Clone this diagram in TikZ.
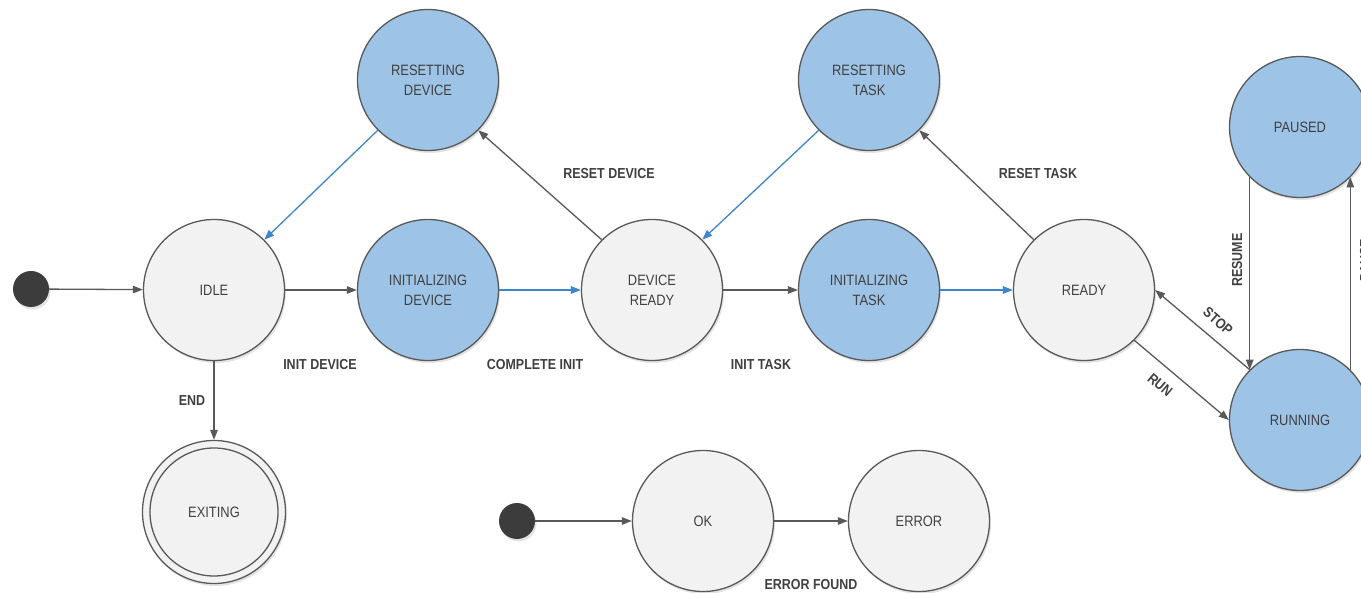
\documentclass[tikz,border=0pt]{standalone}
\usepackage{fontspec}
\setmainfont[FakeStretch=0.86]{Liberation Sans}
\usetikzlibrary{arrows.meta,shadows}
\definecolor{stfill}{HTML}{F2F2F2}
\definecolor{stblue}{HTML}{9DC3E6}
\definecolor{stline}{HTML}{595959}
\definecolor{sttext}{HTML}{404040}
\definecolor{bedgecol}{HTML}{3D85CC}
\definecolor{dotcol}{HTML}{3C3C3C}
\begin{document}
\begin{tikzpicture}[x=1pt,y=-1pt,
  state/.style={circle, draw=stline, line width=1.3pt, fill=stfill, minimum size=141pt, inner sep=0pt,
    align=center, font=\fontsize{15}{20}\selectfont, text=sttext,
    drop shadow={opacity=0.22, shadow xshift=1.5pt, shadow yshift=-2.5pt}},
  bluestate/.style={state, fill=stblue},
  initdot/.style={circle, fill=dotcol, draw=none, minimum size=36pt, inner sep=0pt,
    drop shadow={opacity=0.22, shadow xshift=1.5pt, shadow yshift=-2.5pt}},
  edge/.style={draw=stline, line width=1.3pt, -{Triangle[length=10pt,width=7.5pt]}},
  bedge/.style={edge, draw=bedgecol},
  lbl/.style={font=\bfseries\fontsize{14.5}{17}\selectfont, text=sttext, inner sep=0pt}]
\useasboundingbox (0,0) rectangle (1361,593);
% states
\node[initdot] (s1) at (31,289) {};
\node[state] (idle) at (214,290) {IDLE};
\node[bluestate] (initd) at (428,290) {INITIALIZING\\DEVICE};
\node[state] (dr) at (652,290) {DEVICE\\READY};
\node[bluestate] (initt) at (869,290) {INITIALIZING\\TASK};
\node[state] (ready) at (1084,290) {READY};
\node[bluestate] (rd) at (428,80) {RESETTING\\DEVICE};
\node[bluestate] (rt) at (869,80) {RESETTING\\TASK};
\node[bluestate] (paused) at (1300,127) {PAUSED};
\node[bluestate] (running) at (1300,420) {RUNNING};
\node[state, minimum size=143pt] (exit) at (214,512) {EXITING};
\node[circle, draw=stline, line width=1.3pt, minimum size=128pt, inner sep=0pt] (exitin) at (214,512) {};
\node[initdot] (s2) at (517,521) {};
\node[state] (ok) at (703,521) {OK};
\node[state] (err) at (919,521) {ERROR};
% edges
\draw[edge] (s1) -- (idle);
\draw[edge] (idle) -- (initd);
\draw[bedge] (initd) -- (dr);
\draw[edge] (dr) -- (initt);
\draw[bedge] (initt) -- (ready);
\draw[edge] (dr.135) -- (rd.-45);
\draw[bedge] (rd.-135) -- (idle.45);
\draw[edge] (ready.135) -- (rt.-45);
\draw[bedge] (rt.-135) -- (dr.45);
\draw[edge] (idle) -- (exit);
\draw[edge] (ready.-45) -- (running.180);
\draw[edge] (running.135) -- (ready.0);
\draw[edge] (paused.-135) -- (running.135);
\draw[edge] (running.45) -- (paused.-45);
\draw[edge] (s2) -- (ok);
\draw[edge] (ok) -- (err);
% labels
\node[lbl] (l1) at (320,365) {INIT DEVICE};
\node[lbl] (l2) at (535,365) {COMPLETE INIT};
\node[lbl] (l3) at (761,365) {INIT TASK};
\node[lbl] (l4) at (609,174) {RESET DEVICE};
\node[lbl] (l5) at (1038,174) {RESET TASK};
\node[lbl] (l6) at (192,401) {END};
\node[lbl] (l7) at (811,585) {ERROR FOUND};
\node[lbl, rotate=-40] (l8) at (1160,385) {RUN};
\node[lbl, rotate=-41] (l9) at (1218,321) {STOP};
\node[lbl, rotate=90] (l10) at (1237,260) {RESUME};
\node[lbl, rotate=90] (l11) at (1365,260) {PAUSE};
\end{tikzpicture}
\end{document}
